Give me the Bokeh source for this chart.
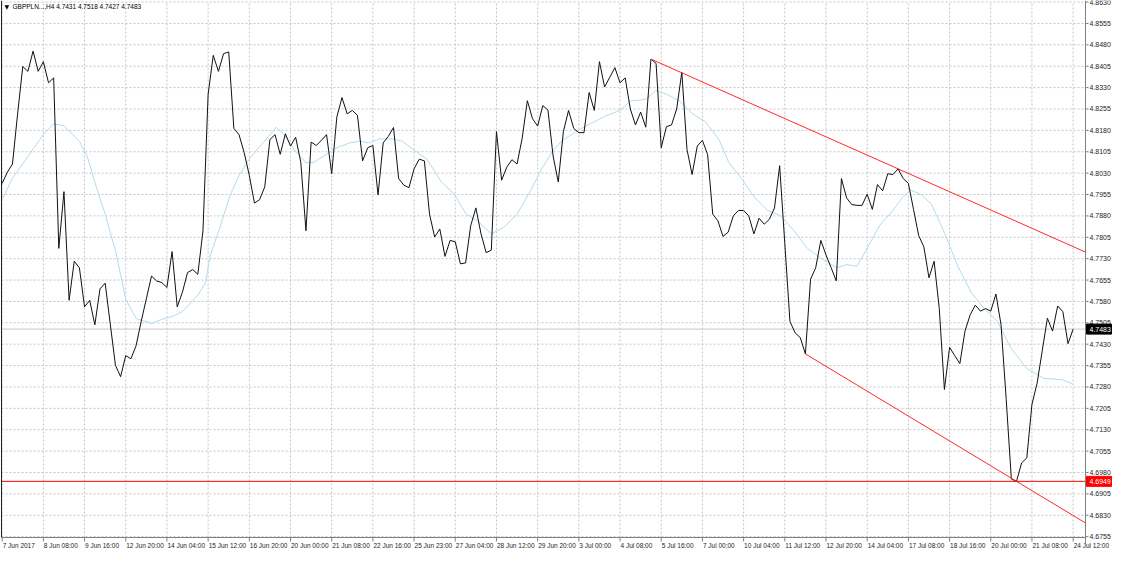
from bokeh.plotting import figure
from bokeh.models import Range1d
from bokeh.core.properties import value
from bokeh.embed import file_html
from bokeh.resources import INLINE

# ---- data (GBPPLN H4 closes) ----
close = [
    4.7994, 4.8033, 4.8062, 4.8238, 4.8404, 4.8387, 4.8458, 4.8387, 4.8421, 4.8347,
    4.8364, 4.7766, 4.7965, 4.7584, 4.7721, 4.7698, 4.7561, 4.7584, 4.7498, 4.7624,
    4.7644, 4.7500, 4.7356, 4.7316, 4.7390, 4.7379, 4.7424, 4.7510, 4.7589, 4.7669,
    4.7652, 4.7646, 4.7629, 4.7755, 4.7561, 4.7612, 4.7681, 4.7692, 4.7675, 4.7828,
    4.8307, 4.8443, 4.8387, 4.8449, 4.8455, 4.8187, 4.8165, 4.8102, 4.8022, 4.7925,
    4.7937, 4.7982, 4.8148, 4.8165, 4.8096, 4.8168, 4.8125, 4.8156, 4.8068, 4.7828,
    4.8139, 4.8127, 4.8145, 4.8165, 4.8028, 4.8227, 4.8295, 4.8238, 4.8250, 4.8233,
    4.8073, 4.8119, 4.8127, 4.7954, 4.8136, 4.8159, 4.8190, 4.8011, 4.7988, 4.7979,
    4.8045, 4.8079, 4.8073, 4.7886, 4.7806, 4.7834, 4.7738, 4.7794, 4.7789, 4.7712,
    4.7715, 4.7846, 4.7908, 4.7817, 4.7751, 4.7760, 4.8176, 4.8005, 4.8051, 4.8077,
    4.8062, 4.8153, 4.8284, 4.8221, 4.8195, 4.8267, 4.8251, 4.8090, 4.7999, 4.8176,
    4.8250, 4.8187, 4.8172, 4.8172, 4.8313, 4.8250, 4.8421, 4.8332, 4.8366, 4.8400,
    4.8347, 4.8364, 4.8255, 4.8199, 4.8244, 4.8191, 4.8430, 4.8415, 4.8119, 4.8193,
    4.8199, 4.8255, 4.8384, 4.8113, 4.8025, 4.8125, 4.8145, 4.8096, 4.7886, 4.7863,
    4.7808, 4.7823, 4.7880, 4.7899, 4.7899, 4.7880, 4.7817, 4.7872, 4.7851, 4.7868,
    4.7908, 4.8056, 4.7783, 4.7510, 4.7470, 4.7453, 4.7396, 4.7658, 4.7698, 4.7794,
    4.7743, 4.7698, 4.7652, 4.8011, 4.7943, 4.7920, 4.7917, 4.7917, 4.7956, 4.7903,
    4.7990, 4.7968, 4.8028, 4.8025, 4.8045, 4.8011, 4.7994, 4.7903, 4.7811, 4.7772,
    4.7663, 4.7721, 4.7555, 4.7271, 4.7419, 4.7390, 4.7362, 4.7476, 4.7533, 4.7567,
    4.7546, 4.7555, 4.7546, 4.7606, 4.7498, 4.7236, 4.6957, 4.6949, 4.7014, 4.7031,
    4.7219, 4.7293, 4.7407, 4.7521, 4.7476, 4.7564, 4.7544, 4.7432, 4.7483,
]
bars = list(range(len(close)))

# moving average (light blue), read at sample bars
ma_x = [0, 2, 4, 6, 8, 10, 12, 15, 16.5, 18, 20, 22, 24, 26, 29, 31, 33, 35, 38, 39.5,
        40.4, 42.3, 44.3, 46, 48, 50.6, 53.2, 54.8, 56.7, 59, 60.5, 62.4, 65, 67.5, 69.4,
        71.3, 73.2, 75.8, 77.7, 80.2, 82.5, 85.3, 87.9, 90.1, 92.3, 95, 97.4, 100, 102.5,
        104.8, 106.7, 108.6, 111.1, 114.3, 117.5, 120, 122, 123.9, 125.1, 127, 129, 131.5,
        134.1, 136.6, 139.2, 141.1, 143.6, 146.2, 148.7, 151.2, 153.8, 156.4, 159.5, 162.1,
        164, 166, 167.8, 170.4, 172.9, 174.8, 176.4, 178.6, 180.5, 183.1, 185.6, 188.2,
        190.7, 193.3, 195.8, 199, 202.2, 206, 207.9]
ma_y = [4.7937, 4.8012, 4.8063, 4.8114, 4.8166, 4.8203, 4.8196, 4.8142, 4.8090, 4.7998,
        4.7886, 4.7759, 4.7588, 4.7520, 4.7503, 4.7517, 4.7527, 4.7544, 4.7602, 4.7646,
        4.7739, 4.7841, 4.7954, 4.8022, 4.8080, 4.8135, 4.8191, 4.8165, 4.8113, 4.8066,
        4.8068, 4.8090, 4.8119, 4.8136, 4.8142, 4.8136, 4.8150, 4.8150, 4.8142, 4.8108,
        4.8079, 4.7999, 4.7954, 4.7886, 4.7863, 4.7817, 4.7840, 4.7886, 4.7965, 4.8045,
        4.8102, 4.8142, 4.8172, 4.8204, 4.8233, 4.8250, 4.8284, 4.8286, 4.8290, 4.8320,
        4.8307, 4.8284, 4.8238, 4.8210, 4.8148, 4.8068, 4.8011, 4.7943, 4.7899, 4.7880,
        4.7828, 4.7766, 4.7726, 4.7698, 4.7709, 4.7703, 4.7760, 4.7846, 4.7897, 4.7943,
        4.7971, 4.7954, 4.7920, 4.7817, 4.7703, 4.7612, 4.7555, 4.7510, 4.7419, 4.7345,
        4.7311, 4.7305, 4.7291]

# trend lines (anchor bars / prices)
upper_x = [126, 174]
upper_y = [4.8430, 4.8045]
lower_x = [156, 197]
lower_y = [4.7396, 4.6949]
support_level = 4.6949
last_price = 4.7483

x_tick_bars = [0, 8, 16, 24, 32, 40, 48, 56, 64, 72, 80, 88, 96, 104, 112, 120, 128,
               136, 144, 152, 160, 168, 176, 184, 192, 200, 208]
x_tick_labels = ["7 Jun 2017", "8 Jun 08:00", "9 Jun 16:00", "12 Jun 20:00", "14 Jun 04:00",
                 "15 Jun 12:00", "16 Jun 20:00", "20 Jun 00:00", "21 Jun 08:00", "22 Jun 16:00",
                 "25 Jun 23:00", "27 Jun 04:00", "28 Jun 12:00", "29 Jun 20:00", "3 Jul 00:00",
                 "4 Jul 08:00", "5 Jul 16:00", "7 Jul 00:00", "10 Jul 04:00", "11 Jul 12:00",
                 "12 Jul 20:00", "14 Jul 04:00", "17 Jul 08:00", "18 Jul 16:00", "20 Jul 00:00",
                 "21 Jul 08:00", "24 Jul 12:00"]
y_ticks = [4.6755, 4.6830, 4.6905, 4.6980, 4.7055, 4.7130, 4.7205, 4.7280, 4.7355, 4.7430,
           4.7505, 4.7580, 4.7655, 4.7730, 4.7805, 4.7880, 4.7955, 4.8030, 4.8105, 4.8180,
           4.8255, 4.8330, 4.8405, 4.8480, 4.8555, 4.8630]
y_tick_labels = ["%.4f" % t for t in y_ticks]
header_text = "GBPPLN...,H4  4.7431 4.7518 4.7427 4.7483"

# ---- layout: the whole canvas is the frame; chart area drawn by hand ----
W, H = 1114, 550
L_PX, R_PX, T_PX, B_PX = 1, 1085, 1, 537          # chart area in canvas pixels
X0, X1 = -0.13, 210.4                              # bar range of chart area
Y_TOP, Y_BOT = 4.8632, 4.6752                      # price range of chart area
ppb = (R_PX - L_PX) / (X1 - X0)
ppp = (B_PX - T_PX) / (Y_TOP - Y_BOT)
def dx(px):
    return px / ppb
def dy(px):
    return px / ppp

FONT = "Liberation Sans"
GRID = "#c4c4c4"
AXIS = "#808080"
TXT = "#1e1e1e"

p = figure(width=W, height=H, output_backend="svg", toolbar_location=None,
           x_range=Range1d(X0 - L_PX / ppb, X0 + (W - L_PX) / ppb),
           y_range=Range1d(Y_TOP - (H - T_PX) / ppp, Y_TOP + T_PX / ppp),
           x_axis_type=None, y_axis_type=None,
           min_border_left=0, min_border_right=0, min_border_top=0, min_border_bottom=0)
p.outline_line_color = None
p.background_fill_color = "white"
p.border_fill_color = "white"

# grid
p.segment(x0=x_tick_bars, y0=Y_BOT, x1=x_tick_bars, y1=Y_TOP,
          line_color=GRID, line_width=1, line_dash="2 2")
p.segment(x0=X0, y0=y_ticks, x1=X1, y1=y_ticks,
          line_color=GRID, line_width=1, line_dash="2 2")

# current price and support lines
p.segment(x0=X0, y0=last_price, x1=X1, y1=last_price, line_color="#c8c8c8", line_width=1)
p.segment(x0=X0, y0=support_level, x1=X1, y1=support_level, line_color="#ff0000", line_width=1)

# moving average and price
p.line(ma_x, ma_y, line_color="#b2dcec", line_width=1)
p.line(bars, close, line_color="#111111", line_width=1)

# trend lines extended to the right edge of the chart area
def extend(xs, ys, x_to):
    s = (ys[1] - ys[0]) / (xs[1] - xs[0])
    return [xs[0], x_to], [ys[0], ys[0] + s * (x_to - xs[0])]

ux, uy = extend(upper_x, upper_y, X1)
lx, ly = extend(lower_x, lower_y, X1)
p.line(ux, uy, line_color="#ff2a2a", line_width=1)
p.line(lx, ly, line_color="#ff2a2a", line_width=1)

# frame / axis lines
p.segment(x0=X0, y0=Y_BOT, x1=X0, y1=Y_TOP + dy(1), line_color="#202020", line_width=1)
p.segment(x0=X0, y0=Y_BOT, x1=X1, y1=Y_BOT, line_color=AXIS, line_width=1)
p.segment(x0=X1, y0=Y_BOT - dy(6), x1=X1, y1=Y_TOP + dy(1), line_color=AXIS, line_width=1)

# y axis ticks + labels
p.segment(x0=X1, y0=y_ticks, x1=X1 + dx(3), y1=y_ticks, line_color=AXIS, line_width=1)
p.text(x=X1 + dx(4), y=y_ticks, text=y_tick_labels, text_font=value(FONT),
       text_font_size="7px", text_color=TXT, text_align="left", text_baseline="middle")

# x axis ticks + labels
p.segment(x0=x_tick_bars, y0=Y_BOT, x1=x_tick_bars, y1=Y_BOT - dy(4), line_color=AXIS, line_width=1)
p.text(x=[b + dx(0.5) for b in x_tick_bars], y=Y_BOT - dy(4), text=x_tick_labels,
       text_font=value(FONT), text_font_size="6.5px", text_color=TXT,
       text_align="left", text_baseline="top")

# price boxes on the axis
for price, col in ((last_price, "#000000"), (support_level, "#ff0000")):
    p.quad(left=X1 + dx(1), right=X1 + dx(26), top=price + dy(5), bottom=price - dy(5),
           fill_color=col, line_color=col)
    p.text(x=X1 + dx(4), y=price, text=["%.4f" % price], text_font=value(FONT),
           text_font_size="7px", text_color="white", text_align="left", text_baseline="middle")

# header
p.text(x=X0 + dx(3), y=Y_TOP - dy(5), text=["\u25bc"], text_font=value("DejaVu Sans"),
       text_font_size="6px", text_color="#000000", text_align="left", text_baseline="middle")
p.text(x=X0 + dx(11), y=Y_TOP - dy(5), text=[header_text], text_font=value(FONT),
       text_font_size="6.5px", text_color="#000000", text_align="left", text_baseline="middle")

open("out.html", "w").write(file_html(p, INLINE))
